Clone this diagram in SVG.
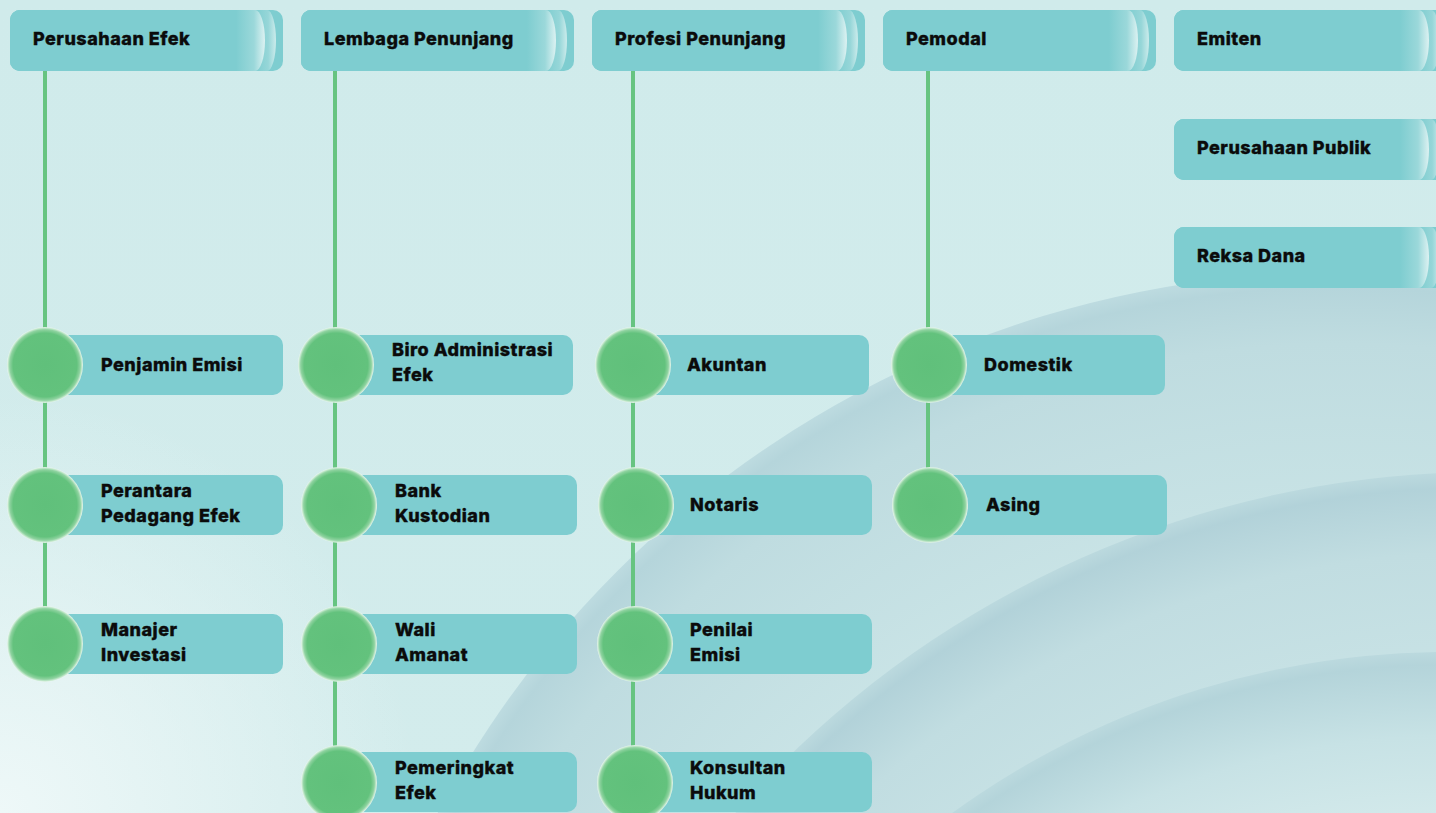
<svg xmlns="http://www.w3.org/2000/svg" xmlns:xlink="http://www.w3.org/1999/xlink" width="1436" height="813" viewBox="0 0 1436 813">
<defs>
<style>
.t{font-family:Inter,"Open Sans","DejaVu Sans",sans-serif;font-weight:800;font-size:18px;letter-spacing:0.5px;fill:#0b0b0b;stroke:#0b0b0b;stroke-width:0.35px}
.box{fill:#7ecdd0}
.ln{stroke:#67c481;stroke-width:4;fill:none}
.dot{fill:url(#dotG)}
</style>
<radialGradient id="dotG" cx="0.5" cy="0.5" r="0.5">
<stop offset="0" stop-color="#60c07b"/>
<stop offset="0.84" stop-color="#63c27d"/>
<stop offset="0.93" stop-color="#8fd3a0"/>
<stop offset="1" stop-color="#eaf7ee"/>
</radialGradient>
<linearGradient id="hlB" gradientUnits="userSpaceOnUse" x1="226" y1="0" x2="256" y2="0">
<stop offset="0" stop-color="#7ecdd0"/>
<stop offset="0.6" stop-color="#9bd8da"/>
<stop offset="1" stop-color="#e2f4f4"/>
</linearGradient>
<linearGradient id="hlA" gradientUnits="userSpaceOnUse" x1="245" y1="0" x2="267" y2="0">
<stop offset="0" stop-color="#7ecdd0"/>
<stop offset="0.6" stop-color="#96d6d8"/>
<stop offset="1" stop-color="#d2eeee"/>
</linearGradient>
<g id="hdr">
<rect x="0" y="0" width="273" height="61" rx="10" class="box"/>
<path d="M10,0 H257 A9,30.5 0 0 1 257,61 H10 A10,10 0 0 1 0,51 V10 A10,10 0 0 1 10,0 Z" fill="url(#hlA)"/>
<path d="M10,0 H245 A10,30.5 0 0 1 245,61 H10 A10,10 0 0 1 0,51 V10 A10,10 0 0 1 10,0 Z" fill="url(#hlB)"/>
</g>
<linearGradient id="bgG" x1="0" y1="0" x2="0" y2="1">
<stop offset="0" stop-color="#d0ebeb"/>
<stop offset="1" stop-color="#d3ecec"/>
</linearGradient>
<radialGradient id="bl" gradientUnits="userSpaceOnUse" cx="0" cy="813" r="420">
<stop offset="0" stop-color="#eef8f8"/>
<stop offset="1" stop-color="#eef8f8" stop-opacity="0"/>
</radialGradient>
<radialGradient id="c1" gradientUnits="userSpaceOnUse" cx="1340" cy="1295" r="1023">
<stop offset="0.7" stop-color="#cbe5e7"/>
<stop offset="0.93" stop-color="#bfdce0"/>
<stop offset="0.985" stop-color="#b5d5db"/>
<stop offset="1" stop-color="#bddbe0"/>
</radialGradient>
<radialGradient id="c2" gradientUnits="userSpaceOnUse" cx="1487" cy="1471" r="999">
<stop offset="0.7" stop-color="#cde6e8"/>
<stop offset="0.92" stop-color="#c1dde1"/>
<stop offset="0.985" stop-color="#b2d2d9"/>
<stop offset="1" stop-color="#bbd9de"/>
</radialGradient>
<radialGradient id="c3" gradientUnits="userSpaceOnUse" cx="1448" cy="1496" r="844">
<stop offset="0.72" stop-color="#dcefef"/>
<stop offset="0.9" stop-color="#c7e2e5"/>
<stop offset="0.985" stop-color="#b4d4da"/>
<stop offset="1" stop-color="#bbd9de"/>
</radialGradient>
</defs>

<g id="background">
<rect x="0" y="0" width="1436" height="813" fill="url(#bgG)"/>
<rect x="0" y="0" width="1436" height="813" fill="url(#bl)"/>
<circle cx="1340" cy="1295" r="1023" fill="url(#c1)"/>
<circle cx="1487" cy="1471" r="999" fill="url(#c2)"/>
<circle cx="1448" cy="1496" r="844" fill="url(#c3)"/>
</g>

<g id="connectors">
<line class="ln" x1="45" y1="71" x2="45" y2="644"/>
<line class="ln" x1="335" y1="71" x2="335" y2="783"/>
<line class="ln" x1="633" y1="71" x2="633" y2="783"/>
<line class="ln" x1="928" y1="71" x2="928" y2="505"/>
</g>

<g id="h-perusahaan-efek"><use href="#hdr" transform="translate(10,10)"/><text class="t" x="33" y="45">Perusahaan Efek</text></g>
<g id="h-lembaga-penunjang"><use href="#hdr" transform="translate(301,10)"/><text class="t" x="324" y="45">Lembaga Penunjang</text></g>
<g id="h-profesi-penunjang"><use href="#hdr" transform="translate(592,10)"/><text class="t" x="615" y="45">Profesi Penunjang</text></g>
<g id="h-pemodal"><use href="#hdr" transform="translate(883,10)"/><text class="t" x="906" y="45">Pemodal</text></g>
<g id="h-emiten"><use href="#hdr" transform="translate(1174,10)"/><text class="t" x="1197" y="45">Emiten</text></g>
<g id="h-perusahaan-publik"><use href="#hdr" transform="translate(1174,119)"/><text class="t" x="1197" y="154">Perusahaan Publik</text></g>
<g id="h-reksa-dana"><use href="#hdr" transform="translate(1174,227)"/><text class="t" x="1197" y="262">Reksa Dana</text></g>

<g id="n-penjamin-emisi"><rect class="box" x="45" y="335" width="238" height="60" rx="10"/><circle class="dot" cx="45" cy="365" r="38"/><text class="t" x="101" y="371">Penjamin Emisi</text></g>
<g id="n-perantara"><rect class="box" x="45" y="475" width="238" height="60" rx="10"/><circle class="dot" cx="45" cy="505" r="38"/><text class="t" x="101" y="497">Perantara</text><text class="t" x="101" y="522">Pedagang Efek</text></g>
<g id="n-manajer"><rect class="box" x="45" y="614" width="238" height="60" rx="10"/><circle class="dot" cx="45" cy="644" r="38"/><text class="t" x="101" y="636">Manajer</text><text class="t" x="101" y="661">Investasi</text></g>

<g id="n-biro"><rect class="box" x="336" y="335" width="237" height="60" rx="10"/><circle class="dot" cx="336" cy="365" r="38"/><text class="t" x="392" y="356">Biro Administrasi</text><text class="t" x="392" y="381">Efek</text></g>
<g id="n-bank"><rect class="box" x="339" y="475" width="238" height="60" rx="10"/><circle class="dot" cx="339" cy="505" r="38"/><text class="t" x="395" y="497">Bank</text><text class="t" x="395" y="522">Kustodian</text></g>
<g id="n-wali"><rect class="box" x="339" y="614" width="238" height="60" rx="10"/><circle class="dot" cx="339" cy="644" r="38"/><text class="t" x="395" y="636">Wali</text><text class="t" x="395" y="661">Amanat</text></g>
<g id="n-pemeringkat"><rect class="box" x="339" y="752" width="238" height="60" rx="10"/><circle class="dot" cx="339" cy="783" r="38"/><text class="t" x="395" y="774">Pemeringkat</text><text class="t" x="395" y="799">Efek</text></g>

<g id="n-akuntan"><rect class="box" x="633" y="335" width="236" height="60" rx="10"/><circle class="dot" cx="633" cy="365" r="38"/><text class="t" x="687" y="371">Akuntan</text></g>
<g id="n-notaris"><rect class="box" x="636" y="475" width="236" height="60" rx="10"/><circle class="dot" cx="636" cy="505" r="38"/><text class="t" x="690" y="511">Notaris</text></g>
<g id="n-penilai"><rect class="box" x="636" y="614" width="236" height="60" rx="10"/><circle class="dot" cx="635" cy="644" r="38"/><text class="t" x="690" y="636">Penilai</text><text class="t" x="690" y="661">Emisi</text></g>
<g id="n-konsultan"><rect class="box" x="636" y="752" width="236" height="60" rx="10"/><circle class="dot" cx="635" cy="783" r="38"/><text class="t" x="690" y="774">Konsultan</text><text class="t" x="690" y="799">Hukum</text></g>

<g id="n-domestik"><rect class="box" x="929" y="335" width="236" height="60" rx="10"/><circle class="dot" cx="929" cy="365" r="38"/><text class="t" x="984" y="371">Domestik</text></g>
<g id="n-asing"><rect class="box" x="930" y="475" width="237" height="60" rx="10"/><circle class="dot" cx="930" cy="505" r="38"/><text class="t" x="986" y="511">Asing</text></g>
</svg>
